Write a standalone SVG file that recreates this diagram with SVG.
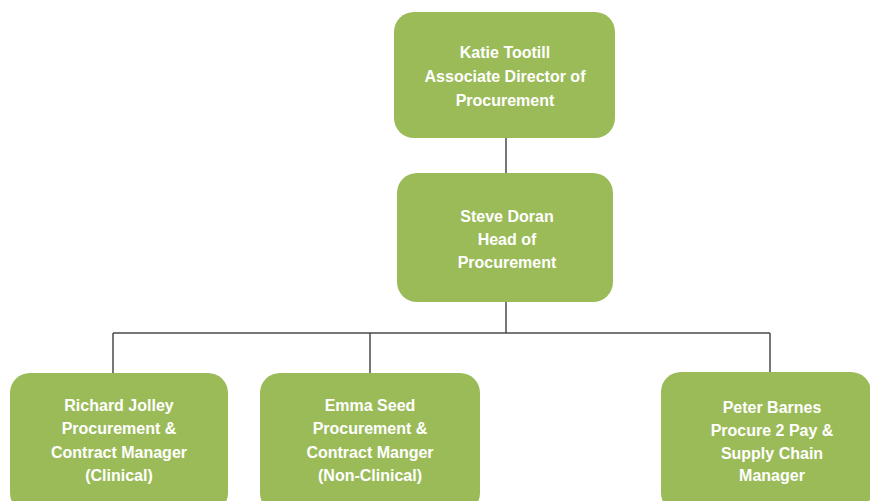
<svg xmlns="http://www.w3.org/2000/svg" width="870" height="501" viewBox="0 0 870 501">
<style>
.box{fill:#9BBB59;}
.t{fill:#FFFFFF;font-family:"Liberation Sans",Arial,sans-serif;font-weight:bold;font-size:16px;text-anchor:middle;}
.c{stroke:#4a4a4a;stroke-width:1.5;fill:none;}
</style>
<rect width="870" height="501" fill="#FFFFFF"/>
<g id="connectors">
<line class="c" x1="506" y1="138" x2="506" y2="173"/>
<line class="c" x1="506" y1="302" x2="506" y2="333"/>
<line class="c" x1="113" y1="333" x2="770" y2="333"/>
<line class="c" x1="113" y1="333" x2="113" y2="373"/>
<line class="c" x1="370" y1="333" x2="370" y2="373"/>
<line class="c" x1="770" y1="333" x2="770" y2="373"/>
</g>
<g id="katie">
<rect class="box" x="394" y="12" width="221" height="126" rx="20"/>
<text class="t" x="505" y="58">Katie Tootill</text>
<text class="t" x="505" y="82">Associate Director of</text>
<text class="t" x="505" y="106">Procurement</text>
</g>
<g id="steve">
<rect class="box" x="397" y="173" width="216" height="129" rx="20"/>
<text class="t" x="507" y="222">Steve Doran</text>
<text class="t" x="507" y="245">Head of</text>
<text class="t" x="507" y="268">Procurement</text>
</g>
<g id="richard">
<rect class="box" x="10" y="373" width="218" height="140" rx="20"/>
<text class="t" x="119" y="411">Richard Jolley</text>
<text class="t" x="119" y="434">Procurement &amp;</text>
<text class="t" x="119" y="458">Contract Manager</text>
<text class="t" x="119" y="481">(Clinical)</text>
</g>
<g id="emma">
<rect class="box" x="260" y="373" width="220" height="140" rx="20"/>
<text class="t" x="370" y="411">Emma Seed</text>
<text class="t" x="370" y="434">Procurement &amp;</text>
<text class="t" x="370" y="458">Contract Manger</text>
<text class="t" x="370" y="481">(Non-Clinical)</text>
</g>
<g id="peter">
<rect class="box" x="661" y="372" width="210" height="141" rx="20"/>
<text class="t" x="772" y="413">Peter Barnes</text>
<text class="t" x="772" y="436">Procure 2 Pay &amp;</text>
<text class="t" x="772" y="459">Supply Chain</text>
<text class="t" x="772" y="481">Manager</text>
</g>
</svg>
